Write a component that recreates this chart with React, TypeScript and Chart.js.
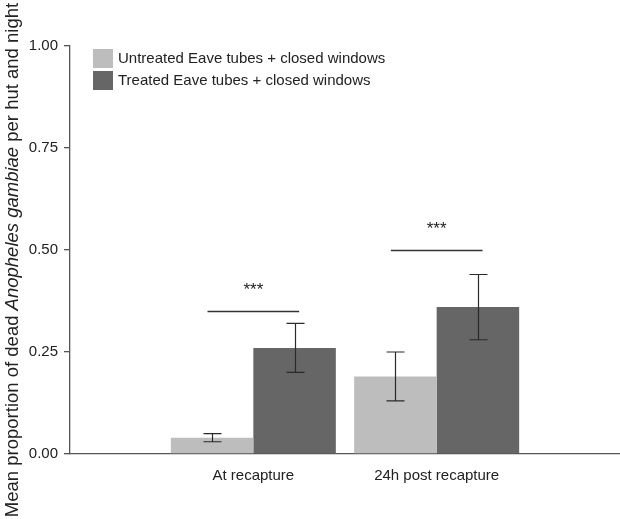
import React, { useEffect, useRef } from "react";
import { Chart, registerables } from "chart.js";

Chart.register(...registerables);

const categories = ["At recapture", "24h post recapture"];
const seriesNames = ["Untreated Eave tubes + closed windows", "Treated Eave tubes + closed windows"];
const untreatedMean = [0.04, 0.19];
const untreatedLow = [0.03, 0.13];
const untreatedHigh = [0.05, 0.25];
const treatedMean = [0.26, 0.36];
const treatedLow = [0.2, 0.28];
const treatedHigh = [0.32, 0.44];
const sigLevel = [0.35, 0.5];
const sigLabel = ["***", "***"];
const yTicks = [0, 0.25, 0.5, 0.75, 1.0];

const LIGHT = "#bdbdbd";
const DARK = "#666666";
const AXIS = "#555555";
const TEXT = "#222222";
const FONT = "'Liberation Sans', Arial, sans-serif";

const errorBars = {
  id: "errorBars",
  afterDatasetsDraw(chart: any) {
    const ctx = chart.ctx;
    const y = chart.scales.y;
    const lows = [untreatedLow, treatedLow];
    const highs = [untreatedHigh, treatedHigh];
    ctx.save();
    ctx.strokeStyle = "#2a2a2a";
    ctx.lineWidth = 1.2;
    chart.data.datasets.forEach((_: any, di: number) => {
      const meta = chart.getDatasetMeta(di);
      meta.data.forEach((el: any, i: number) => {
        const x = Math.round(el.x) + 0.5;
        const yl = y.getPixelForValue(lows[di][i]);
        const yh = y.getPixelForValue(highs[di][i]);
        ctx.beginPath();
        ctx.moveTo(x, yl);
        ctx.lineTo(x, yh);
        ctx.moveTo(x - 9, yl);
        ctx.lineTo(x + 9, yl);
        ctx.moveTo(x - 9, yh);
        ctx.lineTo(x + 9, yh);
        ctx.stroke();
      });
    });
    // significance markers
    const xs = chart.scales.x;
    ctx.strokeStyle = "#333333";
    ctx.lineWidth = 1.3;
    ctx.fillStyle = TEXT;
    ctx.font = `17px ${FONT}`;
    ctx.textAlign = "center";
    ctx.textBaseline = "middle";
    sigLevel.forEach((lv, i) => {
      const x1 = xs.getPixelForValue(i + 1 - 0.25);
      const x2 = xs.getPixelForValue(i + 1 + 0.25);
      const py = Math.round(y.getPixelForValue(lv)) + 0.5;
      ctx.beginPath();
      ctx.moveTo(x1, py);
      ctx.lineTo(x2, py);
      ctx.stroke();
      ctx.fillText(sigLabel[i], (x1 + x2) / 2, y.getPixelForValue(lv + 0.06) + 4);
    });
    ctx.restore();
  },
};

const overlay = {
  id: "overlay",
  afterDraw(chart: any) {
    const ctx = chart.ctx;
    ctx.save();
    // legend
    const colors = [LIGHT, DARK];
    ctx.font = `15px ${FONT}`;
    ctx.textAlign = "left";
    ctx.textBaseline = "middle";
    seriesNames.forEach((name, i) => {
      const top = 49 + i * 22;
      ctx.fillStyle = colors[i];
      ctx.fillRect(93, top, 20, 19);
      ctx.fillStyle = TEXT;
      ctx.fillText(name, 118, top + 10);
    });
    // y title
    const size = 18.5;
    const parts = [
      { t: "Mean proportion of dead ", f: `${size}px ${FONT}` },
      { t: "Anopheles gambiae", f: `italic ${size}px ${FONT}` },
      { t: " per hut and night", f: `${size}px ${FONT}` },
    ];
    let total = 0;
    const widths = parts.map((p) => {
      ctx.font = p.f;
      const w = ctx.measureText(p.t).width;
      total += w;
      return w;
    });
    ctx.translate(13, 260);
    ctx.rotate(-Math.PI / 2);
    let cx = -total / 2;
    ctx.fillStyle = TEXT;
    ctx.textBaseline = "middle";
    parts.forEach((p, i) => {
      ctx.font = p.f;
      ctx.fillText(p.t, cx, 0);
      cx += widths[i];
    });
    ctx.restore();
  },
};

export default function App() {
  const ref = useRef<HTMLCanvasElement | null>(null);
  useEffect(() => {
    if (!ref.current) return;
    const chart = new Chart(ref.current, {
      type: "bar",
      data: {
        datasets: [
          {
            label: seriesNames[0],
            data: untreatedMean.map((v, i) => ({ x: i + 1, y: v })),
            backgroundColor: LIGHT,
            borderWidth: 0,
          },
          {
            label: seriesNames[1],
            data: treatedMean.map((v, i) => ({ x: i + 1, y: v })),
            backgroundColor: DARK,
            borderWidth: 0,
          },
        ],
      },
      options: {
        animation: false,
        responsive: false,
        maintainAspectRatio: false,
        layout: { padding: { top: 46, right: 0, left: 0, bottom: 0 } },
        datasets: { bar: { categoryPercentage: 0.9, barPercentage: 1.0 } },
        plugins: { legend: { display: false }, tooltip: { enabled: false } },
        scales: {
          x: {
            type: "linear",
            min: 0,
            max: 3,
            offset: false,
            afterFit: (s: any) => {
              s.height = 65;
              s.paddingLeft = 0;
              s.paddingRight = 0;
            },
            afterBuildTicks: (s: any) => {
              s.ticks = [0, 1, 2, 3].map((v) => ({ value: v }));
            },
            ticks: {
              padding: 5,
              maxRotation: 0,
              autoSkip: false,
              color: TEXT,
              font: { family: FONT, size: 15 },
              callback: (v: any) => categories[Number(v) - 1] ?? "",
            },
            grid: { display: false, offset: false },
            border: { display: true, color: AXIS, width: 1.3 },
          },
          y: {
            min: 0,
            max: 1,
            afterFit: (s: any) => {
              s.width = 70;
            },
            afterBuildTicks: (s: any) => {
              s.ticks = yTicks.map((v) => ({ value: v }));
            },
            ticks: {
              padding: 6,
              color: TEXT,
              font: { family: FONT, size: 15 },
              callback: (v: any) => Number(v).toFixed(2),
            },
            grid: {
              display: true,
              drawOnChartArea: false,
              drawTicks: true,
              tickLength: 6,
              color: AXIS,
              lineWidth: 1.3,
            },
            border: { display: true, color: AXIS, width: 1.3 },
          },
        },
      },
      plugins: [errorBars, overlay],
    });
    return () => chart.destroy();
  }, []);
  return (
    <div style={{ position: "fixed", left: 0, top: 0, width: 620, height: 519, background: "#fff" }}>
      <canvas ref={ref} width={620} height={519} style={{ display: "block" }} />
    </div>
  );
}
